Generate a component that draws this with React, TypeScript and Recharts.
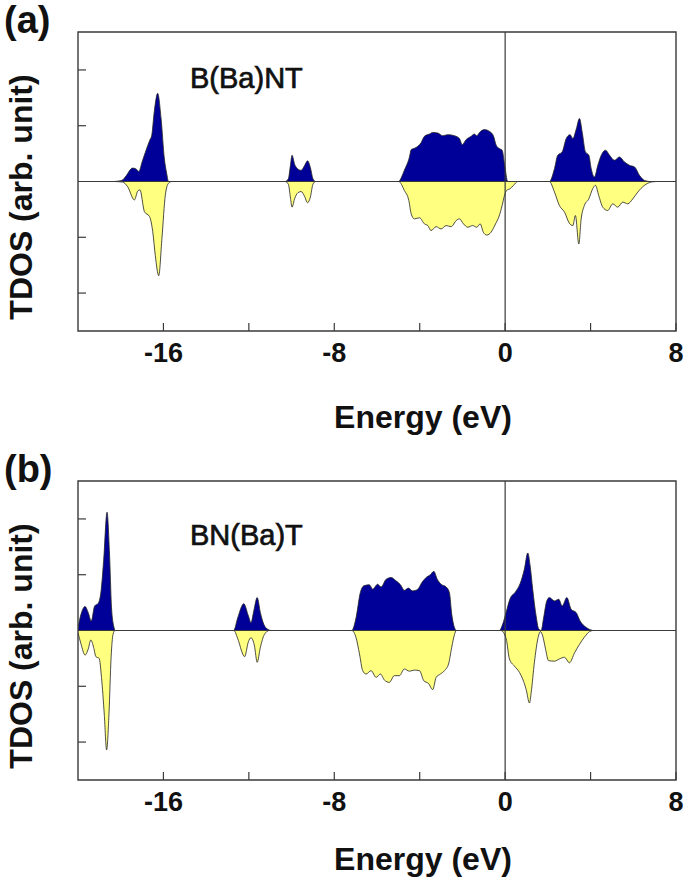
import React from "react";
import { ComposedChart, Area, XAxis, YAxis, ReferenceLine, ReferenceArea } from "recharts";

// energy axis (eV) and TDOS tick positions
const xTicks = [-16, -12, -8, -4, 0, 4, 8];
const yTicks = [-2, -1, 1, 2];

// (a) B(Ba)NT - spin up
const aUpE = [
  -18.3, -17.95, -17.75, -17.45, -17.3, -17.15, -17.0, -16.85, -16.63, -16.55, -16.43, -16.27, -16.11, -15.96, -15.85, -15.76,
  -10.3, -10.15, -10.05, -9.98, -9.85, -9.72, -9.55, -9.4, -9.25, -9.12, -9.0, -8.88,
  -4.98, -4.85, -4.72, -4.48, -4.4, -4.17, -3.93, -3.78, -3.55, -3.39, -3.16, -2.92, -2.69, -2.37, -2.14, -2.01, -1.83, -1.59,
  -1.44, -1.33, -1.2, -0.97, -0.74, -0.55, -0.42, -0.27, -0.14, -0.03, 0.12,
  2.07, 2.31, 2.46, 2.67, 2.86, 3.04, 3.17, 3.33, 3.48, 3.61, 3.76, 3.92, 4.03, 4.18, 4.34, 4.5, 4.7, 4.89, 5.12, 5.35, 5.59,
  5.82, 6.06, 6.29, 6.52, 6.76,
];
const aUpV = [
  0, 0.02, 0.1, 0.24, 0.23, 0.18, 0.35, 0.52, 0.75, 0.82, 1.25, 1.58, 1.13, 0.42, 0.15, 0,
  0, 0.05, 0.3, 0.47, 0.3, 0.23, 0.2, 0.28, 0.37, 0.25, 0.05, 0,
  0, 0.08, 0.2, 0.44, 0.57, 0.61, 0.7, 0.81, 0.85, 0.88, 0.87, 0.82, 0.84, 0.82, 0.77, 0.66, 0.75, 0.81,
  0.85, 0.82, 0.88, 0.93, 0.9, 0.82, 0.65, 0.59, 0.56, 0.32, 0,
  0, 0.23, 0.47, 0.53, 0.77, 0.84, 0.77, 0.94, 1.13, 0.88, 0.53, 0.47, 0.23, 0.08, 0.29, 0.47, 0.56, 0.47, 0.38, 0.44, 0.35,
  0.29, 0.26, 0.11, 0.02, 0,
];

// (a) B(Ba)NT - spin down
const aDnE = [
  -18.3, -17.91, -17.68, -17.36, -17.2, -17.1, -16.89, -16.65, -16.5, -16.38, -16.22, -16.07, -15.91, -15.76, -15.6,
  -10.3, -10.15, -10.05, -9.98, -9.85, -9.7, -9.55, -9.4, -9.25, -9.12, -9.0, -8.88,
  -4.98, -4.72, -4.51, -4.4, -4.25, -4.01, -3.78, -3.62, -3.47, -3.23, -3.0, -2.76, -2.53, -2.29, -2.14, -1.95, -1.75, -1.52,
  -1.33, -1.17, -1.02, -0.86, -0.66, -0.45, -0.3, -0.14, -0.03, 0.07, 0.23, 0.39, 0.59,
  2.07, 2.31, 2.54, 2.78, 3.01, 3.17, 3.29, 3.45, 3.56, 3.71, 3.92, 4.1, 4.23, 4.38, 4.57, 4.8, 5.04, 5.27, 5.51, 5.74, 5.98,
  6.21, 6.52, 6.84, 7.07,
];
const aDnV = [
  0, -0.01, -0.09, -0.33, -0.17, -0.15, -0.54, -0.63, -0.9, -1.33, -1.69, -1.02, -0.24, -0.03, 0,
  0, -0.05, -0.3, -0.46, -0.3, -0.2, -0.18, -0.26, -0.38, -0.28, -0.05, 0,
  0, -0.16, -0.34, -0.58, -0.67, -0.65, -0.76, -0.79, -0.88, -0.81, -0.85, -0.79, -0.81, -0.7, -0.67, -0.76, -0.82, -0.79,
  -0.82, -0.76, -0.91, -0.96, -0.91, -0.76, -0.64, -0.43, -0.25, -0.16, -0.13, -0.07, 0,
  0, -0.19, -0.43, -0.55, -0.75, -0.79, -0.61, -1.12, -0.67, -0.43, -0.31, -0.13, -0.07, -0.25, -0.46, -0.52, -0.4, -0.46,
  -0.37, -0.4, -0.31, -0.19, -0.07, -0.01, 0,
];

// (b) BN(Ba)T - spin up
const bUpE = [
  -20, -19.86, -19.67, -19.52, -19.38, -19.22, -19.05, -18.92, -18.8, -18.64, -18.53, -18.43, -18.33, -18.25,
  -12.71, -12.52, -12.24, -12.02, -11.9, -11.77, -11.61, -11.46, -11.3, -11.11, -10.95,
  -7.18, -6.98, -6.78, -6.62, -6.36, -6.2, -5.97, -5.81, -5.57, -5.34, -5.11, -4.9, -4.72, -4.53, -4.33, -4.09, -3.9, -3.7,
  -3.5, -3.34, -3.18, -3.0, -2.76, -2.61, -2.5, -2.37, -2.29,
  -0.27, -0.11, 0.05, 0.23, 0.48, 0.7, 0.9, 1.06, 1.17, 1.29, 1.45, 1.57, 1.69, 1.79, 1.95, 2.07, 2.31, 2.51, 2.67, 2.89,
  3.09, 3.33, 3.51, 3.71, 3.95, 4.1,
];
const bUpV = [
  0.05, 0.29, 0.43, 0.32, 0.17, 0.44, 0.49, 0.71, 1.25, 2.12, 1.43, 0.41, 0.08, 0,
  0, 0.23, 0.48, 0.26, 0.14, 0.35, 0.59, 0.32, 0.11, 0.02, 0,
  0, 0.23, 0.68, 0.8, 0.82, 0.74, 0.83, 0.78, 0.92, 0.95, 0.89, 0.82, 0.72, 0.76, 0.71, 0.74, 0.86, 0.95,
  1.0, 1.06, 0.92, 0.83, 0.78, 0.68, 0.29, 0.05, 0,
  0, 0.12, 0.33, 0.57, 0.69, 0.84, 1.1, 1.39, 1.16, 0.74, 0.26, 0.03, 0, 0.2, 0.53, 0.59, 0.53, 0.56, 0.44, 0.59,
  0.38, 0.32, 0.17, 0.08, 0.02, 0,
];

// (b) BN(Ba)T - spin down
const bDnE = [
  -20, -19.86, -19.67, -19.52, -19.4, -19.27, -19.16, -19.01, -18.9, -18.77, -18.66, -18.55, -18.45, -18.36, -18.27,
  -12.71, -12.49, -12.29, -12.2, -12.02, -11.9, -11.74, -11.61, -11.46, -11.27, -11.04,
  -7.18, -6.98, -6.82, -6.67, -6.51, -6.28, -6.04, -5.84, -5.65, -5.42, -5.19, -4.95, -4.72, -4.48, -4.25, -4.01, -3.81,
  -3.59, -3.39, -3.23, -3.03, -2.84, -2.65, -2.5, -2.37, -2.29,
  -0.2, 0.05, 0.2, 0.44, 0.67, 0.82, 0.98, 1.14, 1.22, 1.37, 1.53, 1.65, 1.76, 1.89, 2.03, 2.31, 2.54, 2.78, 3.01, 3.25,
  3.48, 3.71, 3.95, 4.1,
];
const bDnV = [
  -0.04, -0.24, -0.44, -0.33, -0.17, -0.3, -0.47, -0.5, -0.84, -1.5, -2.14, -1.5, -0.48, -0.07, 0,
  0, -0.18, -0.42, -0.47, -0.2, -0.13, -0.27, -0.57, -0.3, -0.07, 0,
  0, -0.13, -0.42, -0.72, -0.78, -0.72, -0.84, -0.78, -0.89, -0.93, -0.81, -0.81, -0.69, -0.73, -0.71, -0.72, -0.9,
  -0.95, -1.06, -0.84, -0.78, -0.72, -0.6, -0.3, -0.07, 0,
  0, -0.15, -0.51, -0.64, -0.75, -0.87, -1.05, -1.3, -1.11, -0.57, -0.15, -0.02, -0.1, -0.33, -0.54, -0.55, -0.51, -0.48,
  -0.58, -0.4, -0.25, -0.12, -0.02, 0,
];

const FONT = 'Arial, "Liberation Sans", sans-serif';
const BLUE = "#000099";
const YELLOW = "#ffff80";
const LINE = "#3a3a3a";

function buildRows(upE: number[], upV: number[], dnE: number[], dnV: number[]) {
  const rows: { e: number; up?: number; dn?: number }[] = [];
  upE.forEach((e, i) => rows.push({ e, up: upV[i] }));
  dnE.forEach((e, i) => rows.push({ e, dn: dnV[i] }));
  return rows.sort((a, b) => a.e - b.e);
}

const XTick = (props: any) => {
  const { x, y, payload } = props;
  const major = payload.value % 8 === 0;
  return (
    <g>
      <line x1={x} x2={x} y1={y} y2={y - 8} stroke={LINE} strokeWidth={1.2} />
      {major && (
        <text x={x} y={y + 31} textAnchor="middle" fontSize={27} fontWeight="bold" fill="#111" fontFamily={FONT}>
          {payload.value}
        </text>
      )}
    </g>
  );
};

const YTick = (props: any) => {
  const { x, y } = props;
  return <line x1={x} x2={x + 8} y1={y} y2={y} stroke={LINE} strokeWidth={1.2} />;
};

interface PanelProps {
  top: number;
  tag: string;
  name: string;
  nameBase: number;
  energyBase: number;
  rows: { e: number; up?: number; dn?: number }[];
}

function Panel({ top, tag, name, nameBase, energyBase, rows }: PanelProps) {
  return (
    <div style={{ position: "absolute", left: 0, top, width: 685, height: 440 }}>
      <ComposedChart width={685} height={440} data={rows} margin={{ top: 32, right: 9, bottom: 79, left: 38 }}>
        <XAxis
          type="number"
          dataKey="e"
          domain={[-20, 8]}
          ticks={xTicks}
          interval={0}
          tick={<XTick />}
          tickLine={false}
          axisLine={false}
          tickSize={0}
          tickMargin={0}
          height={30}
          allowDataOverflow
        />
        <YAxis
          type="number"
          domain={[-2.68, 2.68]}
          ticks={yTicks}
          interval={0}
          tick={<YTick />}
          tickLine={false}
          axisLine={false}
          tickSize={0}
          tickMargin={0}
          width={40}
          allowDataOverflow
        />
        <Area
          type="monotone"
          dataKey="up"
          baseValue={0}
          connectNulls
          stroke="#222"
          strokeWidth={0.8}
          fill={BLUE}
          fillOpacity={1}
          dot={false}
          activeDot={false}
          isAnimationActive={false}
        />
        <Area
          type="monotone"
          dataKey="dn"
          baseValue={0}
          connectNulls
          stroke="#222"
          strokeWidth={0.8}
          fill={YELLOW}
          fillOpacity={1}
          dot={false}
          activeDot={false}
          isAnimationActive={false}
        />
        <ReferenceLine y={0} stroke={LINE} strokeWidth={1.2} />
        <ReferenceLine x={0} stroke={LINE} strokeWidth={1.2} />
        <ReferenceArea x1={-20} x2={8} y1={-2.68} y2={2.68} fill="none" stroke={LINE} strokeWidth={1.4} />
      </ComposedChart>
      <svg width={685} height={440} style={{ position: "absolute", left: 0, top: 0, pointerEvents: "none" }}>
        <text x={4} y={33} fontSize={38} fontWeight="bold" fill="#111" fontFamily={FONT}>
          {tag}
        </text>
        <text
          transform="translate(32,197) rotate(-90)"
          textAnchor="middle"
          fontSize={32}
          fontWeight="bold"
          fill="#111"
          fontFamily={FONT}
        >
          TDOS (arb. unit)
        </text>
        <text x={423} y={energyBase} textAnchor="middle" fontSize={32} fontWeight="bold" fill="#111" fontFamily={FONT}>
          Energy (eV)
        </text>
        <text x={190} y={nameBase} fontSize={29} fill="#111" stroke="#111" strokeWidth={0.7} fontFamily={FONT}>
          {name}
        </text>
      </svg>
    </div>
  );
}

export default function App() {
  const rowsA = buildRows(aUpE, aUpV, aDnE, aDnV);
  const rowsB = buildRows(bUpE, bUpV, bDnE, bDnV);
  return (
    <div style={{ position: "absolute", left: 0, top: 0, width: 685, height: 880, background: "#fff", fontFamily: FONT }}>
      <Panel top={0} tag="(a)" name="B(Ba)NT" nameBase={88} energyBase={428} rows={rowsA} />
      <Panel top={449} tag="(b)" name="BN(Ba)T" nameBase={96} energyBase={421} rows={rowsB} />
    </div>
  );
}
